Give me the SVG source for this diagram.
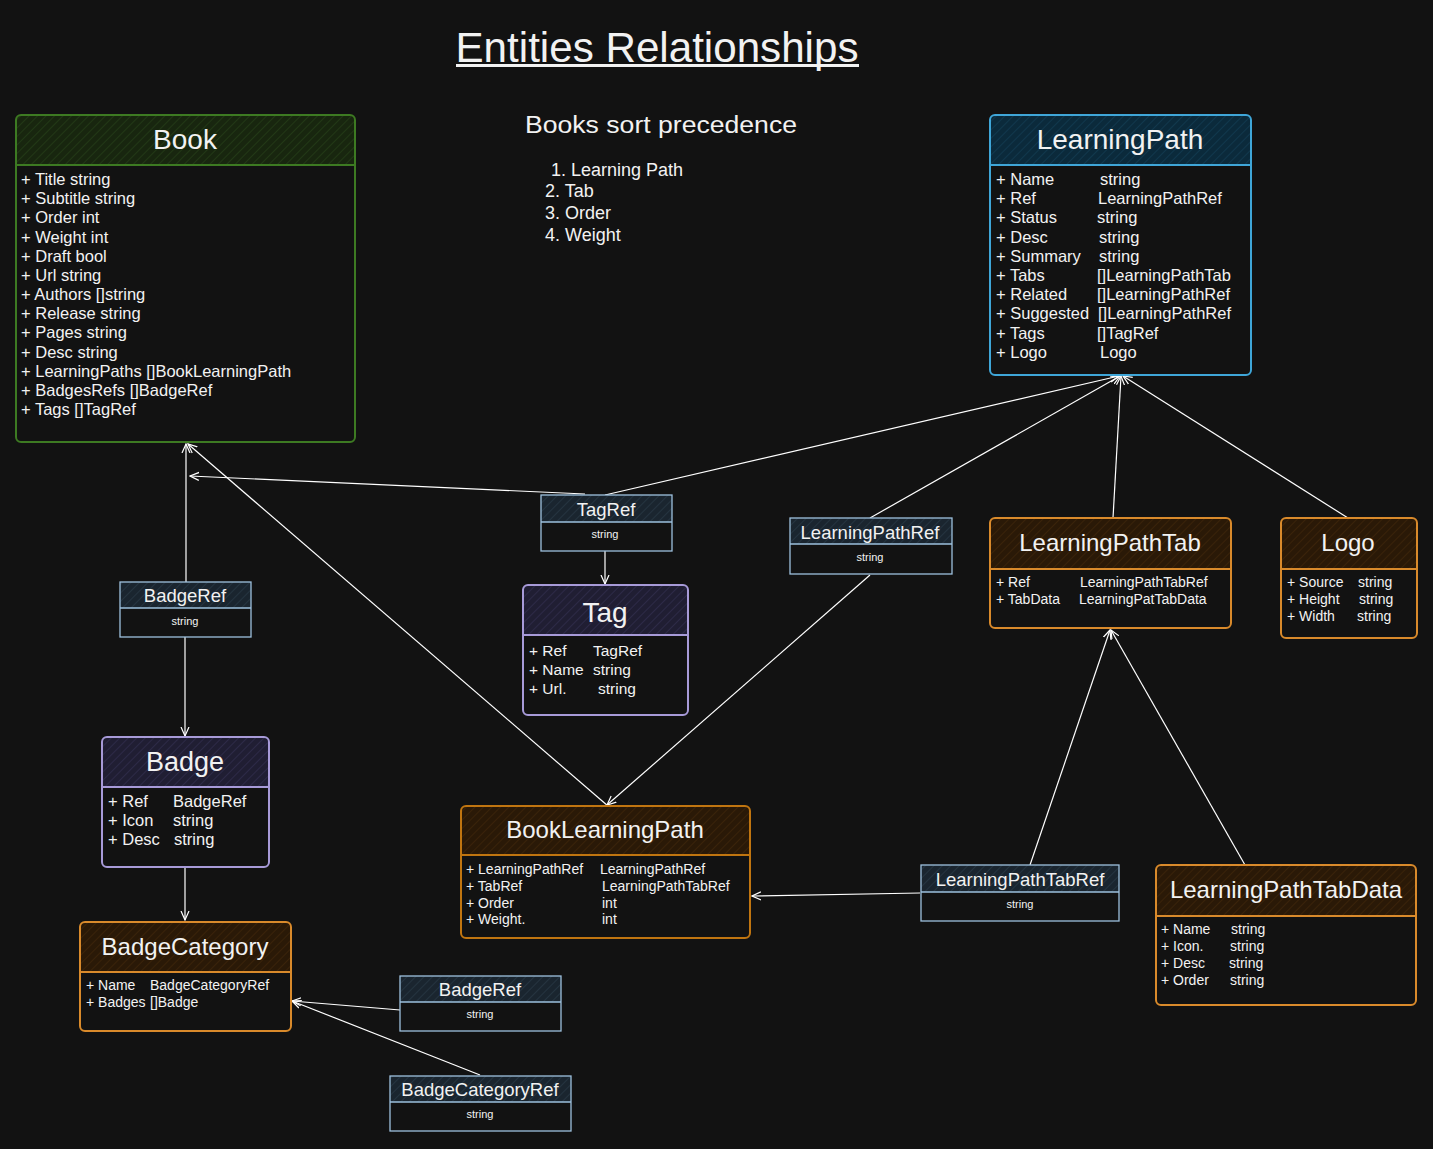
<svg xmlns="http://www.w3.org/2000/svg" width="1433" height="1149" viewBox="0 0 1433 1149">
<defs>
<pattern id="hG" width="6" height="6" patternUnits="userSpaceOnUse" patternTransform="rotate(45)"><rect width="6" height="6" fill="#18260f"/><line x1="0" y1="0" x2="0" y2="6" stroke="#2c4a1c" stroke-width="1"/></pattern>
<pattern id="hB" width="6" height="6" patternUnits="userSpaceOnUse" patternTransform="rotate(45)"><rect width="6" height="6" fill="#0b2a3b"/><line x1="0" y1="0" x2="0" y2="6" stroke="#17465f" stroke-width="1"/></pattern>
<pattern id="hL" width="6" height="6" patternUnits="userSpaceOnUse" patternTransform="rotate(45)"><rect width="6" height="6" fill="#1a252f"/><line x1="0" y1="0" x2="0" y2="6" stroke="#2f4251" stroke-width="1"/></pattern>
<pattern id="hP" width="6" height="6" patternUnits="userSpaceOnUse" patternTransform="rotate(45)"><rect width="6" height="6" fill="#201e33"/><line x1="0" y1="0" x2="0" y2="6" stroke="#3a365a" stroke-width="1"/></pattern>
<pattern id="hO" width="6" height="6" patternUnits="userSpaceOnUse" patternTransform="rotate(45)"><rect width="6" height="6" fill="#2a1907"/><line x1="0" y1="0" x2="0" y2="6" stroke="#4a2d0d" stroke-width="1"/></pattern>
<marker id="arr" viewBox="0 0 10 10" refX="9" refY="5" markerWidth="10" markerHeight="10" markerUnits="userSpaceOnUse" orient="auto"><path d="M0,1 L9,5 L0,9" fill="none" stroke="#ffffff" stroke-width="1.2"/></marker>
</defs>
<style>
text{font-family:"Liberation Sans",Arial,sans-serif;fill:#f2f2f2}
.box{fill:none;stroke-width:2}
.green{stroke:#3d7a22}
.blue{stroke:#3fa6d8}
.lblue{stroke:#9dc0de;stroke-width:1.3}
.purple{stroke:#a79ad8}
.orange{stroke:#d98a2b}
.dorange{stroke:#c07510}
.t28{font-size:28px;text-anchor:middle}
.t24{font-size:24px;text-anchor:middle}
.t18{font-size:18.5px;text-anchor:middle}
.s{font-size:11px;text-anchor:middle}
.f16{font-size:16.5px}
.f15{font-size:15.5px}
.f14{font-size:14px}
.conn line,.conn path{stroke:#ffffff;stroke-width:1.2;fill:none;marker-end:url(#arr)}
</style>
<rect width="1433" height="1149" fill="#121212"/>

<g id="title">
<text x="657" y="62" font-size="42" text-anchor="middle" textLength="403" lengthAdjust="spacingAndGlyphs">Entities Relationships</text>
<rect x="456" y="64" width="403" height="3" fill="#f2f2f2"/>
</g>
<g id="sort-note">
<text x="525" y="133" font-size="23" textLength="272" lengthAdjust="spacingAndGlyphs">Books sort precedence</text>
<text x="551" y="176" font-size="18">1. Learning Path</text>
<text x="545" y="197" font-size="18">2. Tab</text>
<text x="545" y="219" font-size="18">3. Order</text>
<text x="545" y="241" font-size="18">4. Weight</text>
</g>

<g class="conn">
<line x1="186" y1="582" x2="186" y2="444"/>
<line x1="585" y1="494" x2="190" y2="476"/>
<line x1="608" y1="806" x2="188" y2="444"/>
<line x1="605" y1="495" x2="1119" y2="376"/>
<line x1="870" y1="518" x2="1120" y2="376"/>
<line x1="1113" y1="518" x2="1121" y2="376"/>
<line x1="1348" y1="518" x2="1123" y2="376"/>
<line x1="605" y1="551" x2="605" y2="584"/>
<line x1="870" y1="575" x2="607" y2="805"/>
<line x1="185" y1="637" x2="185" y2="736"/>
<line x1="185" y1="868" x2="185" y2="920"/>
<line x1="1030" y1="865" x2="1110" y2="630"/>
<line x1="1245" y1="865" x2="1111" y2="630"/>
<line x1="920" y1="893" x2="752" y2="896"/>
<line x1="400" y1="1010" x2="292" y2="1001"/>
<line x1="480" y1="1075" x2="292" y2="1001"/>
</g>

<g id="book">
<rect x="16" y="115" width="339" height="327" rx="5" fill="#121212"/>
<path d="M21,115 H350 Q355,115 355,120 V165 H16 V120 Q16,115 21,115 Z" fill="url(#hG)"/>
<line x1="16" y1="165" x2="355" y2="165" class="box green"/>
<rect x="16" y="115" width="339" height="327" rx="5" class="box green"/>
<text x="185" y="149" class="t28">Book</text>
<g class="f16">
<text x="21" y="185">+ Title string</text>
<text x="21" y="204">+ Subtitle string</text>
<text x="21" y="223">+ Order int</text>
<text x="21" y="243">+ Weight int</text>
<text x="21" y="262">+ Draft bool</text>
<text x="21" y="281">+ Url string</text>
<text x="21" y="300">+ Authors []string</text>
<text x="21" y="319">+ Release string</text>
<text x="21" y="338">+ Pages string</text>
<text x="21" y="358">+ Desc string</text>
<text x="21" y="377">+ LearningPaths []BookLearningPath</text>
<text x="21" y="396">+ BadgesRefs []BadgeRef</text>
<text x="21" y="415">+ Tags []TagRef</text>
</g>
</g>

<g id="learningpath">
<rect x="990" y="115" width="261" height="260" rx="5" fill="#121212"/>
<path d="M995,115 H1246 Q1251,115 1251,120 V165 H990 V120 Q990,115 995,115 Z" fill="url(#hB)"/>
<line x1="990" y1="165" x2="1251" y2="165" class="box blue"/>
<rect x="990" y="115" width="261" height="260" rx="5" class="box blue"/>
<text x="1120" y="149" class="t28">LearningPath</text>
<g class="f16">
<text x="996" y="185">+ Name</text><text x="1100" y="185">string</text>
<text x="996" y="204">+ Ref</text><text x="1098" y="204">LearningPathRef</text>
<text x="996" y="223">+ Status</text><text x="1097" y="223">string</text>
<text x="996" y="243">+ Desc</text><text x="1099" y="243">string</text>
<text x="996" y="262">+ Summary</text><text x="1099" y="262">string</text>
<text x="996" y="281">+ Tabs</text><text x="1097" y="281">[]LearningPathTab</text>
<text x="996" y="300">+ Related</text><text x="1097" y="300">[]LearningPathRef</text>
<text x="996" y="319">+ Suggested</text><text x="1098" y="319">[]LearningPathRef</text>
<text x="996" y="339">+ Tags</text><text x="1097" y="339">[]TagRef</text>
<text x="996" y="358">+ Logo</text><text x="1100" y="358">Logo</text>
</g>
</g>

<g id="tagref">
<rect x="541" y="495" width="131" height="56" fill="#121212"/>
<rect x="541" y="495" width="131" height="27" fill="url(#hL)"/>
<line x1="541" y1="522" x2="672" y2="522" class="box lblue"/>
<rect x="541" y="495" width="131" height="56" class="box lblue"/>
<text x="606" y="516" class="t18">TagRef</text>
<text x="605" y="538" class="s">string</text>
</g>

<g id="tag">
<rect x="523" y="585" width="165" height="130" rx="5" fill="#121212"/>
<path d="M528,585 H683 Q688,585 688,590 V635 H523 V590 Q523,585 528,585 Z" fill="url(#hP)"/>
<line x1="523" y1="635" x2="688" y2="635" class="box purple"/>
<rect x="523" y="585" width="165" height="130" rx="5" class="box purple"/>
<text x="605" y="622" class="t28">Tag</text>
<g class="f15">
<text x="529" y="656">+ Ref</text><text x="593" y="656">TagRef</text>
<text x="529" y="675">+ Name</text><text x="593" y="675">string</text>
<text x="529" y="694">+ Url.</text><text x="598" y="694">string</text>
</g>
</g>

<g id="learningpathref">
<rect x="790" y="518" width="162" height="56" fill="#121212"/>
<rect x="790" y="518" width="162" height="26" fill="url(#hL)"/>
<line x1="790" y1="544" x2="952" y2="544" class="box lblue"/>
<rect x="790" y="518" width="162" height="56" class="box lblue"/>
<text x="870" y="539" class="t18">LearningPathRef</text>
<text x="870" y="561" class="s">string</text>
</g>

<g id="learningpathtab">
<rect x="990" y="518" width="241" height="110" rx="5" fill="#121212"/>
<path d="M995,518 H1226 Q1231,518 1231,523 V569 H990 V523 Q990,518 995,518 Z" fill="url(#hO)"/>
<line x1="990" y1="569" x2="1231" y2="569" class="box orange"/>
<rect x="990" y="518" width="241" height="110" rx="5" class="box orange"/>
<text x="1110" y="551" class="t24">LearningPathTab</text>
<g class="f14">
<text x="996" y="587">+ Ref</text><text x="1080" y="587">LearningPathTabRef</text>
<text x="996" y="604">+ TabData</text><text x="1079" y="604">LearningPatTabData</text>
</g>
</g>

<g id="logo">
<rect x="1281" y="518" width="136" height="120" rx="5" fill="#121212"/>
<path d="M1286,518 H1412 Q1417,518 1417,523 V569 H1281 V523 Q1281,518 1286,518 Z" fill="url(#hO)"/>
<line x1="1281" y1="569" x2="1417" y2="569" class="box orange"/>
<rect x="1281" y="518" width="136" height="120" rx="5" class="box orange"/>
<text x="1348" y="551" class="t24">Logo</text>
<g class="f14">
<text x="1287" y="587">+ Source</text><text x="1358" y="587">string</text>
<text x="1287" y="604">+ Height</text><text x="1359" y="604">string</text>
<text x="1287" y="621">+ Width</text><text x="1357" y="621">string</text>
</g>
</g>

<g id="badgeref-top">
<rect x="120" y="582" width="131" height="55" fill="#121212"/>
<rect x="120" y="582" width="131" height="26" fill="url(#hL)"/>
<line x1="120" y1="608" x2="251" y2="608" class="box lblue"/>
<rect x="120" y="582" width="131" height="55" class="box lblue"/>
<text x="185" y="602" class="t18">BadgeRef</text>
<text x="185" y="625" class="s">string</text>
</g>

<g id="badge">
<rect x="102" y="737" width="167" height="130" rx="5" fill="#121212"/>
<path d="M107,737 H264 Q269,737 269,742 V787 H102 V742 Q102,737 107,737 Z" fill="url(#hP)"/>
<line x1="102" y1="787" x2="269" y2="787" class="box purple"/>
<rect x="102" y="737" width="167" height="130" rx="5" class="box purple"/>
<text x="185" y="771" font-size="27" text-anchor="middle">Badge</text>
<g class="f16">
<text x="108" y="807">+ Ref</text><text x="173" y="807">BadgeRef</text>
<text x="108" y="826">+ Icon</text><text x="173" y="826">string</text>
<text x="108" y="845">+ Desc</text><text x="174" y="845">string</text>
</g>
</g>

<g id="booklearningpath">
<rect x="461" y="806" width="289" height="132" rx="5" fill="#121212"/>
<path d="M466,806 H745 Q750,806 750,811 V855 H461 V811 Q461,806 466,806 Z" fill="url(#hO)"/>
<line x1="461" y1="855" x2="750" y2="855" class="box dorange"/>
<rect x="461" y="806" width="289" height="132" rx="5" class="box dorange"/>
<text x="605" y="838" class="t24">BookLearningPath</text>
<g class="f14">
<text x="466" y="874">+ LearningPathRef</text><text x="600" y="874">LearningPathRef</text>
<text x="466" y="891">+ TabRef</text><text x="602" y="891">LearningPathTabRef</text>
<text x="466" y="908">+ Order</text><text x="602" y="908">int</text>
<text x="466" y="924">+ Weight.</text><text x="602" y="924">int</text>
</g>
</g>

<g id="learningpathtabref">
<rect x="921" y="865" width="198" height="56" fill="#121212"/>
<rect x="921" y="865" width="198" height="27" fill="url(#hL)"/>
<line x1="921" y1="892" x2="1119" y2="892" class="box lblue"/>
<rect x="921" y="865" width="198" height="56" class="box lblue"/>
<text x="1020" y="886" class="t18">LearningPathTabRef</text>
<text x="1020" y="908" class="s">string</text>
</g>

<g id="learningpathtabdata">
<rect x="1156" y="865" width="260" height="140" rx="5" fill="#121212"/>
<path d="M1161,865 H1411 Q1416,865 1416,870 V916 H1156 V870 Q1156,865 1161,865 Z" fill="url(#hO)"/>
<line x1="1156" y1="916" x2="1416" y2="916" class="box orange"/>
<rect x="1156" y="865" width="260" height="140" rx="5" class="box orange"/>
<text x="1286" y="898" class="t24">LearningPathTabData</text>
<g class="f14">
<text x="1161" y="934">+ Name</text><text x="1231" y="934">string</text>
<text x="1161" y="951">+ Icon.</text><text x="1230" y="951">string</text>
<text x="1161" y="968">+ Desc</text><text x="1229" y="968">string</text>
<text x="1161" y="985">+ Order</text><text x="1230" y="985">string</text>
</g>
</g>

<g id="badgecategory">
<rect x="80" y="922" width="211" height="109" rx="5" fill="#121212"/>
<path d="M85,922 H286 Q291,922 291,927 V972 H80 V927 Q80,922 85,922 Z" fill="url(#hO)"/>
<line x1="80" y1="972" x2="291" y2="972" class="box orange"/>
<rect x="80" y="922" width="211" height="109" rx="5" class="box orange"/>
<text x="185" y="955" class="t24">BadgeCategory</text>
<g class="f14">
<text x="86" y="990">+ Name</text><text x="150" y="990">BadgeCategoryRef</text>
<text x="86" y="1007">+ Badges</text><text x="150" y="1007">[]Badge</text>
</g>
</g>

<g id="badgeref-bottom">
<rect x="400" y="976" width="161" height="55" fill="#121212"/>
<rect x="400" y="976" width="161" height="26" fill="url(#hL)"/>
<line x1="400" y1="1002" x2="561" y2="1002" class="box lblue"/>
<rect x="400" y="976" width="161" height="55" class="box lblue"/>
<text x="480" y="996" class="t18">BadgeRef</text>
<text x="480" y="1018" class="s">string</text>
</g>

<g id="badgecategoryref">
<rect x="390" y="1076" width="181" height="55" fill="#121212"/>
<rect x="390" y="1076" width="181" height="26" fill="url(#hL)"/>
<line x1="390" y1="1102" x2="571" y2="1102" class="box lblue"/>
<rect x="390" y="1076" width="181" height="55" class="box lblue"/>
<text x="480" y="1096" class="t18">BadgeCategoryRef</text>
<text x="480" y="1118" class="s">string</text>
</g>
</svg>
